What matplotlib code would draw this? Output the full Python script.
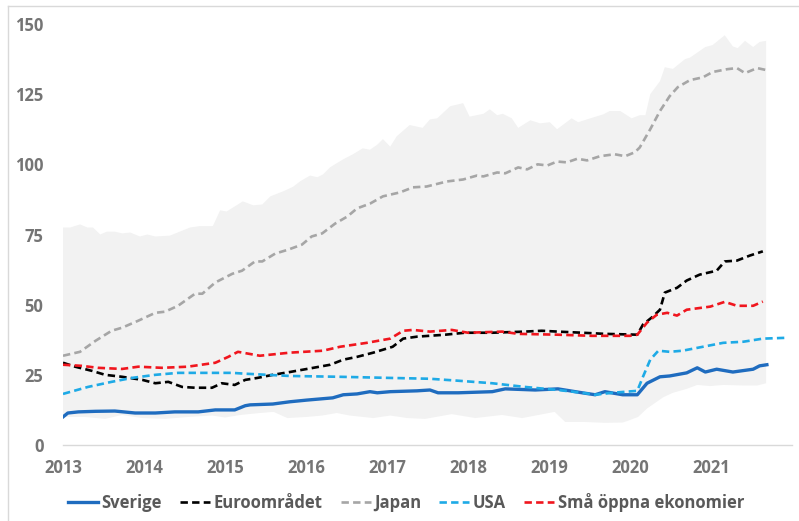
import matplotlib
matplotlib.use("Agg")
import matplotlib.pyplot as plt
from matplotlib.lines import Line2D

plt.rcParams['font.family'] = ['Open Sans', 'DejaVu Sans']
plt.rcParams['font.weight'] = 'bold'

# shaded range (max / min across countries)
band_top_x = [2013.00, 2013.09, 2013.21, 2013.30, 2013.37, 2013.46, 2013.54, 2013.64, 2013.73, 2013.83,
              2013.95, 2014.04, 2014.14, 2014.32, 2014.44, 2014.57, 2014.69, 2014.85, 2014.94, 2015.02,
              2015.12, 2015.22, 2015.35, 2015.46, 2015.56, 2015.72, 2015.84, 2015.93, 2016.05, 2016.14,
              2016.21, 2016.30, 2016.46, 2016.58, 2016.70, 2016.79, 2016.88, 2016.95, 2017.04, 2017.12,
              2017.28, 2017.44, 2017.53, 2017.62, 2017.78, 2017.94, 2018.02, 2018.19, 2018.27, 2018.36,
              2018.43, 2018.54, 2018.62, 2018.77, 2018.89, 2019.01, 2019.10, 2019.28, 2019.36, 2019.51,
              2019.67, 2019.75, 2019.88, 2020.02, 2020.12, 2020.19, 2020.25, 2020.37, 2020.43, 2020.53,
              2020.68, 2020.74, 2020.93, 2021.02, 2021.17, 2021.27, 2021.33, 2021.42, 2021.52, 2021.60,
              2021.68]
band_top = [77.5, 77.5, 78.6, 77.5, 77.5, 75.0, 76.0, 76.0, 75.4, 75.7,
            74.3, 75.0, 74.3, 74.6, 76.0, 77.5, 78.0, 78.0, 83.6, 83.2,
            85.0, 86.8, 85.4, 85.7, 88.6, 90.4, 92.0, 94.0, 96.0, 95.4,
            96.4, 99.0, 101.8, 103.6, 105.7, 105.2, 107.0, 109.0, 106.3, 110.0,
            114.0, 113.0, 116.0, 116.4, 120.7, 121.8, 117.0, 118.0, 119.6, 117.5,
            118.0, 116.4, 113.0, 115.7, 114.6, 115.0, 112.5, 116.4, 115.0, 116.4,
            117.8, 119.0, 119.0, 116.4, 117.5, 117.5, 125.0, 129.6, 134.6, 134.0,
            137.5, 138.0, 141.8, 142.5, 146.0, 142.0, 141.4, 144.0, 141.8, 143.6,
            144.0]

band_low_x = [2013.00, 2013.27, 2013.52, 2013.73, 2013.98, 2014.26, 2014.55, 2014.84, 2015.00, 2015.19,
              2015.43, 2015.60, 2015.77, 2016.01, 2016.20, 2016.38, 2016.54, 2016.83, 2017.04, 2017.25,
              2017.47, 2017.80, 2018.09, 2018.42, 2018.67, 2019.07, 2019.20, 2019.44, 2019.69, 2019.91,
              2020.00, 2020.10, 2020.21, 2020.41, 2020.53, 2020.70, 2020.83, 2020.99, 2021.15, 2021.40,
              2021.57, 2021.68]
band_low = [10.0, 10.0, 9.3, 10.7, 9.6, 9.3, 10.0, 10.5, 9.8, 10.7,
            11.4, 11.8, 9.6, 10.0, 10.5, 11.4, 10.5, 9.6, 10.5, 9.6,
            9.3, 11.0, 9.6, 10.7, 9.6, 11.8, 8.2, 8.2, 7.9, 8.0,
            8.9, 10.0, 13.0, 17.0, 18.6, 20.0, 21.4, 21.0, 21.4, 21.2,
            21.2, 22.0]

sverige_x = [2013.00, 2013.06, 2013.19, 2013.40, 2013.64, 2013.89, 2014.14, 2014.38, 2014.67, 2014.88,
             2015.12, 2015.25, 2015.31, 2015.59, 2015.80, 2016.01, 2016.33, 2016.46, 2016.63, 2016.79,
             2016.88, 2017.04, 2017.37, 2017.53, 2017.63, 2017.88, 2018.30, 2018.46, 2018.83, 2019.11,
             2019.41, 2019.57, 2019.69, 2019.91, 2020.09, 2020.21, 2020.37, 2020.49, 2020.70, 2020.83,
             2020.93, 2021.07, 2021.27, 2021.52, 2021.60, 2021.69]
sverige = [10.0, 11.4, 11.8, 12.0, 12.1, 11.4, 11.4, 11.8, 11.8, 12.5,
           12.5, 14.0, 14.3, 14.6, 15.4, 16.0, 16.8, 17.9, 18.2, 19.0,
           18.6, 19.0, 19.3, 19.6, 18.6, 18.6, 19.0, 20.0, 19.6, 20.0,
           18.6, 17.9, 19.0, 17.9, 17.9, 22.0, 24.3, 24.6, 25.7, 27.5,
           26.0, 27.0, 26.0, 27.0, 28.2, 28.6]

euro_x = [2013.00, 2013.15, 2013.36, 2013.52, 2013.73, 2013.98, 2014.14, 2014.30, 2014.47, 2014.63,
          2014.84, 2014.96, 2015.12, 2015.25, 2015.40, 2015.59, 2015.80, 2016.09, 2016.30, 2016.46,
          2016.63, 2016.83, 2017.07, 2017.20, 2017.37, 2017.72, 2017.96, 2018.30, 2018.70, 2018.91,
          2019.11, 2019.41, 2019.69, 2020.09, 2020.16, 2020.28, 2020.37, 2020.43, 2020.58, 2020.70,
          2020.86, 2021.07, 2021.17, 2021.32, 2021.48, 2021.64]
euro = [29.3, 27.9, 26.4, 25.0, 24.3, 23.2, 22.0, 22.5, 20.7, 20.4,
        20.4, 22.0, 21.4, 23.2, 23.9, 25.0, 26.0, 27.5, 28.6, 30.4,
        31.4, 32.9, 35.0, 37.9, 38.6, 39.3, 40.0, 40.0, 40.4, 40.7,
        40.4, 40.0, 39.6, 39.3, 42.9, 45.7, 48.2, 54.3, 56.0, 58.6,
        60.7, 62.1, 65.4, 65.7, 67.5, 69.0]

japan_x = [2013.00, 2013.21, 2013.40, 2013.60, 2013.73, 2013.93, 2014.14, 2014.26, 2014.42, 2014.63,
           2014.72, 2014.88, 2015.09, 2015.21, 2015.37, 2015.46, 2015.62, 2015.78, 2015.95, 2016.07,
           2016.20, 2016.36, 2016.51, 2016.63, 2016.79, 2016.95, 2017.16, 2017.32, 2017.49, 2017.74,
           2017.94, 2018.11, 2018.19, 2018.36, 2018.46, 2018.62, 2018.73, 2018.86, 2018.98, 2019.10,
           2019.22, 2019.35, 2019.47, 2019.63, 2019.81, 2019.94, 2020.06, 2020.12, 2020.25, 2020.37,
           2020.49, 2020.59, 2020.74, 2020.90, 2021.02, 2021.20, 2021.32, 2021.42, 2021.57, 2021.68]
japan = [31.8, 33.2, 37.1, 40.7, 41.8, 44.3, 47.1, 47.5, 49.6, 53.9,
         53.9, 57.9, 61.0, 62.1, 65.4, 65.4, 68.2, 69.6, 71.4, 74.3,
         75.4, 78.9, 81.4, 84.3, 86.0, 88.6, 90.0, 91.8, 92.1, 93.9,
         94.6, 96.0, 95.7, 97.1, 96.8, 98.9, 98.2, 100.0, 99.6, 101.0,
         100.7, 102.0, 101.4, 102.9, 103.6, 102.9, 104.3, 106.0, 112.5, 119.0,
         124.3, 127.5, 130.0, 131.0, 132.9, 133.9, 134.3, 132.5, 134.3, 133.6]

usa_x = [2013.00, 2013.31, 2013.60, 2013.85, 2014.14, 2014.42, 2014.75, 2015.09, 2015.25, 2015.80,
         2016.42, 2017.04, 2017.53, 2017.88, 2018.30, 2018.70, 2019.11, 2019.41, 2019.57, 2019.78,
         2020.09, 2020.16, 2020.25, 2020.35, 2020.49, 2020.65, 2020.90, 2021.15, 2021.40, 2021.64,
         2021.94]
usa = [18.2, 20.7, 22.5, 23.9, 25.0, 25.7, 25.7, 25.7, 25.4, 24.6,
       24.3, 23.9, 23.6, 22.9, 22.0, 20.7, 19.6, 18.6, 17.9, 18.6,
       19.3, 24.3, 30.4, 33.6, 33.2, 33.6, 35.0, 36.4, 36.8, 37.9,
       38.2]

sma_x = [2013.00, 2013.23, 2013.43, 2013.73, 2013.93, 2014.22, 2014.54, 2014.88, 2015.04, 2015.16,
         2015.43, 2015.80, 2016.21, 2016.42, 2016.75, 2017.04, 2017.20, 2017.32, 2017.53, 2017.80,
         2018.00, 2018.42, 2018.62, 2019.11, 2019.53, 2020.00, 2020.09, 2020.21, 2020.33, 2020.46,
         2020.58, 2020.70, 2020.99, 2021.17, 2021.32, 2021.52, 2021.64]
sma = [28.6, 28.2, 27.5, 27.1, 27.9, 27.5, 27.9, 29.3, 31.4, 33.2,
       31.8, 32.9, 33.6, 35.0, 36.4, 37.9, 40.7, 41.0, 40.4, 41.0,
       40.0, 40.4, 39.6, 39.3, 38.9, 38.9, 39.3, 43.6, 46.4, 47.1,
       46.1, 48.2, 49.3, 51.0, 49.6, 49.6, 51.1]

years = [2013, 2014, 2015, 2016, 2017, 2018, 2019, 2020, 2021]
yticks = [0, 25, 50, 75, 100, 125, 150]

grey_txt = '#757575'
dash = (2.8, 1.6)

fig = plt.figure(figsize=(7.99, 5.21), dpi=100)
ax = fig.add_axes([63 / 799, 1 - 445 / 521, (792 - 63) / 799, (445 - 24) / 521])

# grey min-max band
ax.fill(band_top_x + band_low_x[::-1], band_top + band_low[::-1],
        color='#f2f2f2', lw=0, zorder=1)

ax.plot(sverige_x, sverige, color='#1f6cbf', lw=2.4, label='Sverige', zorder=3)
ax.plot(euro_x, euro, color='black', lw=1.9, dashes=dash, label='Euroområdet', zorder=3)
ax.plot(japan_x, japan, color='#a6a6a6', lw=1.9, dashes=dash, label='Japan', zorder=3)
ax.plot(usa_x, usa, color='#1eaae6', lw=1.9, dashes=dash, label='USA', zorder=3)
ax.plot(sma_x, sma, color='#f0161e', lw=1.9, dashes=dash, label='Små öppna ekonomier', zorder=3)

ax.set_xlim(2013, 2022)
ax.set_ylim(0, 150)
ax.set_xticks(years)
ax.set_xticklabels([str(y) for y in years])
ax.set_yticks(yticks)
for s in ['top', 'right', 'left']:
    ax.spines[s].set_visible(False)
ax.spines['bottom'].set_color('#d9d9d9')
ax.spines['bottom'].set_linewidth(1.0)
ax.tick_params(axis='both', length=0, labelsize=12, labelcolor=grey_txt)
ax.tick_params(axis='y', pad=14)
ax.tick_params(axis='x', pad=10)
for lab in ax.get_xticklabels() + ax.get_yticklabels():
    lab.set_fontweight('bold')

leg = fig.legend(loc='center', bbox_to_anchor=(0.508, 0.035), ncol=5, frameon=False,
                 fontsize=12, handlelength=1.8, handletextpad=0.2, columnspacing=1.1)
for t in leg.get_texts():
    t.set_color('#595959')
    t.set_fontweight('bold')

# light chart frame (Excel style)
fig.add_artist(Line2D([8 / 799, 8 / 799], [0, 1 - 6 / 521], color='#d9d9d9', lw=1))
fig.add_artist(Line2D([8 / 799, 1], [1 - 6 / 521, 1 - 6 / 521], color='#d9d9d9', lw=1))

fig.savefig('out.png', dpi=100)
